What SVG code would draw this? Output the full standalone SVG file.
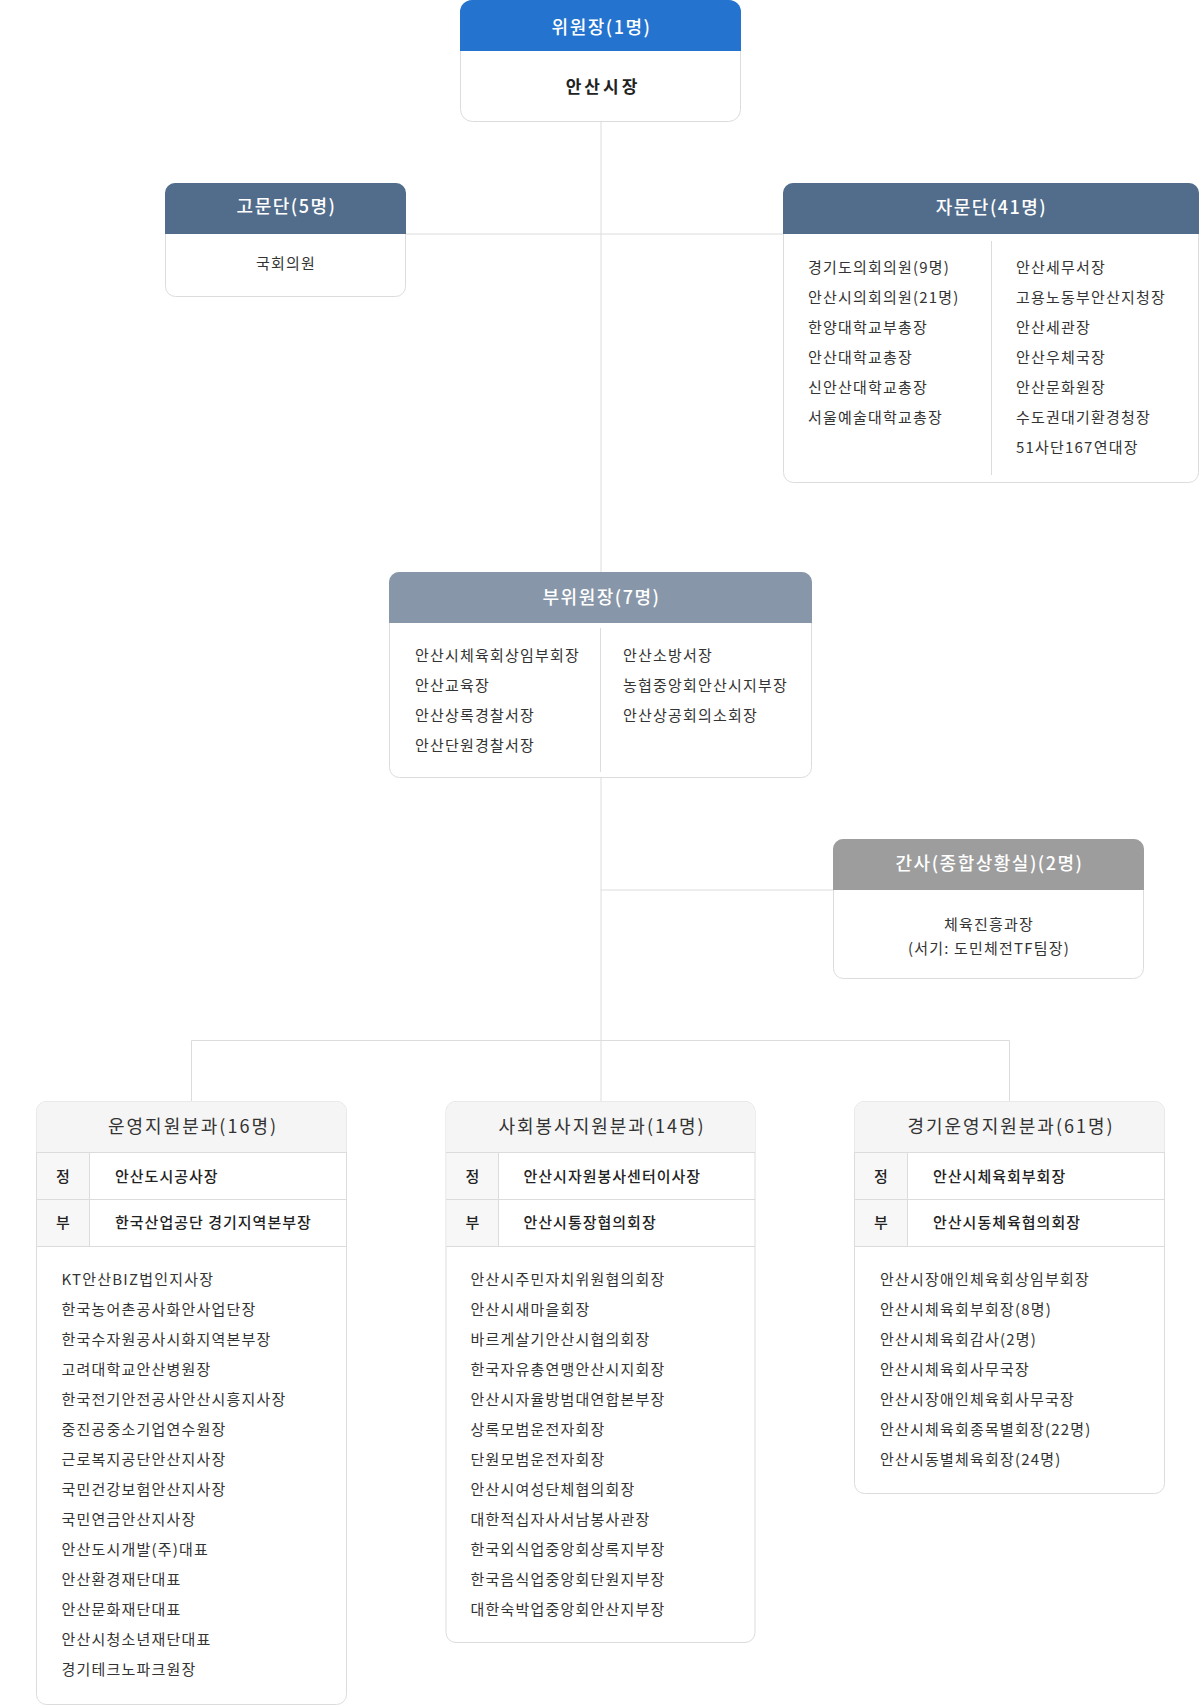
<svg xmlns="http://www.w3.org/2000/svg" width="1200" height="1706" viewBox="0 0 1200 1706">
<style>
text{font-family:"Noto Sans CJK KR","Noto Sans",sans-serif;}
.box{fill:#fff;stroke:#dcdcdc;stroke-width:1;}
.ln{stroke:#dcdcdc;stroke-width:1;fill:none;}
.ht{font-size:18px;fill:#fff;text-anchor:middle;letter-spacing:1.5px;font-weight:500;}
.bt{font-size:18px;fill:#333;text-anchor:middle;letter-spacing:2px;}
.li{font-size:15px;fill:#333;letter-spacing:1.2px;}
.lc{font-size:15px;fill:#333;text-anchor:middle;letter-spacing:1.2px;}
.rv{font-size:15px;fill:#222;font-weight:500;letter-spacing:1px;}
.rl{font-size:15px;fill:#222;font-weight:500;text-anchor:middle;}
</style>
<g id="connectors">
<line class="ln" x1="601" y1="122" x2="601" y2="572"/>
<line class="ln" x1="406" y1="234" x2="783" y2="234"/>
<line class="ln" x1="601" y1="778" x2="601" y2="1101"/>
<line class="ln" x1="601" y1="890" x2="833" y2="890"/>
<polyline class="ln" points="191.5,1101 191.5,1040.5 1009.5,1040.5 1009.5,1101"/>
</g>
<g id="chair">
<rect class="box" x="460.5" y="0.5" width="280" height="121" rx="12"/>
<path d="M460,51 V12 A12,12 0 0 1 472,0 H729 A12,12 0 0 1 741,12 V51 Z" fill="#2474cf"/>
<text class="ht" x="601.5" y="33.5">위원장(1명)</text>
<text x="603" y="93" font-size="17" font-weight="700" fill="#222" text-anchor="middle" letter-spacing="3">안산시장</text>
</g>
<g id="advisors">
<rect class="box" x="165.5" y="183.5" width="240" height="113" rx="10"/>
<path d="M165,234 V193 A10,10 0 0 1 175,183 H396 A10,10 0 0 1 406,193 V234 Z" fill="#516d8b"/>
<text class="ht" x="286.5" y="213">고문단(5명)</text>
<text class="lc" x="286" y="269">국회의원</text>
</g>
<g id="consultants">
<rect class="box" x="783.5" y="183.5" width="415" height="299" rx="10"/>
<path d="M783,234 V193 A10,10 0 0 1 793,183 H1189 A10,10 0 0 1 1199,193 V234 Z" fill="#516d8b"/>
<text class="ht" x="991.5" y="213.5">자문단(41명)</text>
<line class="ln" x1="991.5" y1="241" x2="991.5" y2="475"/>
<text class="li" x="808" y="272.8">경기도의회의원(9명)</text>
<text class="li" x="808" y="302.8">안산시의회의원(21명)</text>
<text class="li" x="808" y="332.8">한양대학교부총장</text>
<text class="li" x="808" y="362.8">안산대학교총장</text>
<text class="li" x="808" y="392.8">신안산대학교총장</text>
<text class="li" x="808" y="422.8">서울예술대학교총장</text>
<text class="li" x="1016" y="272.8">안산세무서장</text>
<text class="li" x="1016" y="302.8">고용노동부안산지청장</text>
<text class="li" x="1016" y="332.8">안산세관장</text>
<text class="li" x="1016" y="362.8">안산우체국장</text>
<text class="li" x="1016" y="392.8">안산문화원장</text>
<text class="li" x="1016" y="422.8">수도권대기환경청장</text>
<text class="li" x="1016" y="452.8">51사단167연대장</text>
</g>
<g id="vice-chairs">
<rect class="box" x="389.5" y="572.5" width="422" height="205" rx="10"/>
<path d="M389,623 V582 A10,10 0 0 1 399,572 H802 A10,10 0 0 1 812,582 V623 Z" fill="#8796a8"/>
<text class="ht" x="601.5" y="603.5">부위원장(7명)</text>
<line class="ln" x1="600.5" y1="628" x2="600.5" y2="772"/>
<text class="li" x="415" y="660.5">안산시체육회상임부회장</text>
<text class="li" x="415" y="690.5">안산교육장</text>
<text class="li" x="415" y="720.5">안산상록경찰서장</text>
<text class="li" x="415" y="750.5">안산단원경찰서장</text>
<text class="li" x="623" y="660.5">안산소방서장</text>
<text class="li" x="623" y="690.5">농협중앙회안산시지부장</text>
<text class="li" x="623" y="720.5">안산상공회의소회장</text>
</g>
<g id="secretary">
<rect class="box" x="833.5" y="839.5" width="310" height="139" rx="10"/>
<path d="M833,890 V849 A10,10 0 0 1 843,839 H1134 A10,10 0 0 1 1144,849 V890 Z" fill="#9d9d9d"/>
<text class="ht" x="989.5" y="869.5">간사(종합상황실)(2명)</text>
<text class="lc" x="989" y="929.5">체육진흥과장</text>
<text class="lc" x="989" y="953.8">(서기: 도민체전TF팀장)</text>
</g>
<g id="ops-support">
<rect class="box" x="36.5" y="1101.5" width="310" height="603" rx="10"/>
<path d="M36.5,1152 V1111.5 A10,10 0 0 1 46.5,1101.5 H336.5 A10,10 0 0 1 346.5,1111.5 V1152 Z" fill="#f5f5f5"/>
<rect x="37" y="1152" width="52.5" height="94" fill="#f7f7f7"/>
<line class="ln" x1="36.5" y1="1152.5" x2="346.5" y2="1152.5"/>
<line class="ln" x1="36.5" y1="1199.5" x2="346.5" y2="1199.5"/>
<line class="ln" x1="36.5" y1="1246.5" x2="346.5" y2="1246.5"/>
<line class="ln" x1="89.5" y1="1152.5" x2="89.5" y2="1246.5"/>
<text class="bt" x="193" y="1133">운영지원분과(16명)</text>
<text class="rl" x="63" y="1181.5">정</text>
<text class="rv" x="115" y="1181.5">안산도시공사장</text>
<text class="rl" x="63" y="1228">부</text>
<text class="rv" x="115" y="1228">한국산업공단 경기지역본부장</text>
<text class="li" x="61.5" y="1284.5">KT안산BIZ법인지사장</text>
<text class="li" x="61.5" y="1314.5">한국농어촌공사화안사업단장</text>
<text class="li" x="61.5" y="1344.5">한국수자원공사시화지역본부장</text>
<text class="li" x="61.5" y="1374.5">고려대학교안산병원장</text>
<text class="li" x="61.5" y="1404.5">한국전기안전공사안산시흥지사장</text>
<text class="li" x="61.5" y="1434.5">중진공중소기업연수원장</text>
<text class="li" x="61.5" y="1464.5">근로복지공단안산지사장</text>
<text class="li" x="61.5" y="1494.5">국민건강보험안산지사장</text>
<text class="li" x="61.5" y="1524.5">국민연금안산지사장</text>
<text class="li" x="61.5" y="1554.5">안산도시개발(주)대표</text>
<text class="li" x="61.5" y="1584.5">안산환경재단대표</text>
<text class="li" x="61.5" y="1614.5">안산문화재단대표</text>
<text class="li" x="61.5" y="1644.5">안산시청소년재단대표</text>
<text class="li" x="61.5" y="1674.5">경기테크노파크원장</text>
</g>
<g id="volunteer-support">
<rect class="box" x="446" y="1101.5" width="309" height="541" rx="10"/>
<path d="M446,1152 V1111.5 A10,10 0 0 1 456,1101.5 H745 A10,10 0 0 1 755,1111.5 V1152 Z" fill="#f5f5f5"/>
<rect x="446.5" y="1152" width="52" height="94" fill="#f7f7f7"/>
<line class="ln" x1="446" y1="1152.5" x2="755" y2="1152.5"/>
<line class="ln" x1="446" y1="1199.5" x2="755" y2="1199.5"/>
<line class="ln" x1="446" y1="1246.5" x2="755" y2="1246.5"/>
<line class="ln" x1="498.5" y1="1152.5" x2="498.5" y2="1246.5"/>
<text class="bt" x="602" y="1133">사회봉사지원분과(14명)</text>
<text class="rl" x="472.5" y="1181.5">정</text>
<text class="rv" x="523.5" y="1181.5">안산시자원봉사센터이사장</text>
<text class="rl" x="472.5" y="1228">부</text>
<text class="rv" x="523.5" y="1228">안산시통장협의회장</text>
<text class="li" x="470.5" y="1284.5">안산시주민자치위원협의회장</text>
<text class="li" x="470.5" y="1314.5">안산시새마을회장</text>
<text class="li" x="470.5" y="1344.5">바르게살기안산시협의회장</text>
<text class="li" x="470.5" y="1374.5">한국자유총연맹안산시지회장</text>
<text class="li" x="470.5" y="1404.5">안산시자율방범대연합본부장</text>
<text class="li" x="470.5" y="1434.5">상록모범운전자회장</text>
<text class="li" x="470.5" y="1464.5">단원모범운전자회장</text>
<text class="li" x="470.5" y="1494.5">안산시여성단체협의회장</text>
<text class="li" x="470.5" y="1524.5">대한적십자사서남봉사관장</text>
<text class="li" x="470.5" y="1554.5">한국외식업중앙회상록지부장</text>
<text class="li" x="470.5" y="1584.5">한국음식업중앙회단원지부장</text>
<text class="li" x="470.5" y="1614.5">대한숙박업중앙회안산지부장</text>
</g>
<g id="games-support">
<rect class="box" x="854.5" y="1101.5" width="310" height="392" rx="10"/>
<path d="M854.5,1152 V1111.5 A10,10 0 0 1 864.5,1101.5 H1154.5 A10,10 0 0 1 1164.5,1111.5 V1152 Z" fill="#f5f5f5"/>
<rect x="855" y="1152" width="52.5" height="94" fill="#f7f7f7"/>
<line class="ln" x1="854.5" y1="1152.5" x2="1164.5" y2="1152.5"/>
<line class="ln" x1="854.5" y1="1199.5" x2="1164.5" y2="1199.5"/>
<line class="ln" x1="854.5" y1="1246.5" x2="1164.5" y2="1246.5"/>
<line class="ln" x1="907.5" y1="1152.5" x2="907.5" y2="1246.5"/>
<text class="bt" x="1011" y="1133">경기운영지원분과(61명)</text>
<text class="rl" x="881" y="1181.5">정</text>
<text class="rv" x="933" y="1181.5">안산시체육회부회장</text>
<text class="rl" x="881" y="1228">부</text>
<text class="rv" x="933" y="1228">안산시동체육협의회장</text>
<text class="li" x="880" y="1284.5">안산시장애인체육회상임부회장</text>
<text class="li" x="880" y="1314.5">안산시체육회부회장(8명)</text>
<text class="li" x="880" y="1344.5">안산시체육회감사(2명)</text>
<text class="li" x="880" y="1374.5">안산시체육회사무국장</text>
<text class="li" x="880" y="1404.5">안산시장애인체육회사무국장</text>
<text class="li" x="880" y="1434.5">안산시체육회종목별회장(22명)</text>
<text class="li" x="880" y="1464.5">안산시동별체육회장(24명)</text>
</g>
</svg>
